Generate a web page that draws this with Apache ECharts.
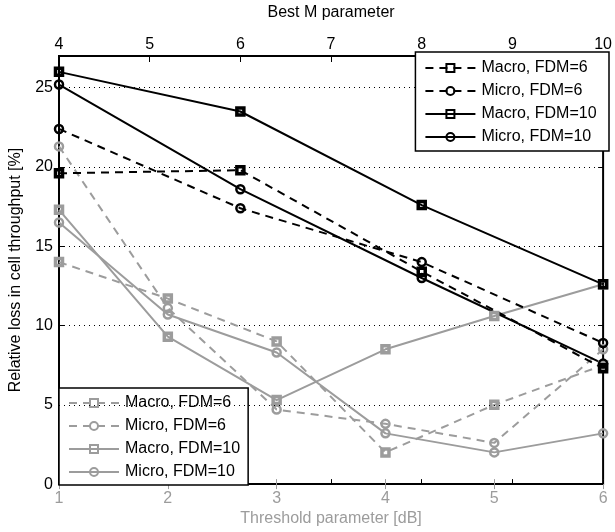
<!DOCTYPE html>
<html><head><meta charset="utf-8">
<script src="https://cdn.jsdelivr.net/npm/echarts@6/dist/echarts.min.js"></script>
<style>html,body{margin:0;padding:0;background:#fff}#c{width:615px;height:532px}</style>
</head><body><div id="c"></div>
<script>
// bottom axis (Threshold parameter [dB])
const thresholdX = [1, 2, 3, 4, 5, 6];
// top axis (Best M parameter)
const bestM = [4, 6, 8, 10];

// gray series (vs threshold)
const grayMacro6  = [14.0, 11.7, 9.0, 2.0, 5.0, 7.5];
const grayMicro6  = [21.3, 11.1, 4.7, 3.8, 2.6, 8.5];
const grayMacro10 = [17.3, 9.3, 5.3, 8.5, 10.6, 12.6];
const grayMicro10 = [16.5, 10.7, 8.3, 3.2, 2.0, 3.2];

// black series (vs best M)
const blackMacro6  = [19.6, 19.8, 13.4, 7.3];
const blackMicro6  = [22.4, 17.4, 14.0, 8.9];
const blackMacro10 = [26.0, 23.5, 17.6, 12.6];
const blackMicro10 = [25.2, 18.6, 13.0, 7.6];

const names = ['Macro, FDM=6', 'Micro, FDM=6', 'Macro, FDM=10', 'Micro, FDM=10'];

const GRAY = '#9c9c9c';
const FONT = 'Liberation Sans';
const FS = 16;

function pairs(xs, ys){ return xs.map((x,i)=>[x, ys[i]]); }

function mk(name, xs, ys, color, dashed, sym, axisIdx){
  const isC = sym === 'circle';
  return {
    name: name, type: 'line', xAxisIndex: axisIdx, yAxisIndex: 0,
    data: pairs(xs, ys),
    symbol: sym, symbolSize: isC ? 8 : 7,
    showAllSymbol: true,
    lineStyle: {color: color, width: 2, type: dashed ? [8,6] : 'solid'},
    itemStyle: {color: 'rgba(255,255,255,0)', borderColor: color, borderWidth: isC ? 2.5 : 3.5},
    emphasis: {disabled: true},
    animation: false
  };
}

const series = [
  mk(names[0], thresholdX, grayMacro6, GRAY, true, 'rect', 0),
  mk(names[1], thresholdX, grayMicro6, GRAY, true, 'circle', 0),
  mk(names[2], thresholdX, grayMacro10, GRAY, false, 'rect', 0),
  mk(names[3], thresholdX, grayMicro10, GRAY, false, 'circle', 0),
  mk(names[0]+' ', bestM, blackMacro6, '#000', true, 'rect', 1),
  mk(names[1]+' ', bestM, blackMicro6, '#000', true, 'circle', 1),
  mk(names[2]+' ', bestM, blackMacro10, '#000', false, 'rect', 1),
  mk(names[3]+' ', bestM, blackMicro10, '#000', false, 'circle', 1)
];
// dotted grid line of the top axes shows through the lower legend
series[4].markLine = {silent: true, symbol: 'none', z: 10, label: {show: false},
  lineStyle: {color: '#000', type: [1, 4], width: 1}, emphasis: {disabled: true},
  data: [{yAxis: 5}]};

const tickOnly = (pos, min, max, color) => ({
  type: 'value', position: pos, min: min, max: max, interval: 1,
  axisLine: {show: false}, axisLabel: {show: false}, splitLine: {show: false},
  axisTick: {show: true, inside: true, length: 5, lineStyle: {color: color, width: 1}}
});

const chart = echarts.init(document.getElementById('c'), null, {renderer: 'canvas'});
chart.setOption({
  animation: false,
  backgroundColor: '#fff',
  textStyle: {fontFamily: FONT},
  grid: {left: 58, right: 5, top: 51, bottom: 46, show: true, borderColor: '#000', borderWidth: 2, backgroundColor: 'transparent'},
  xAxis: [
    {type: 'value', position: 'bottom', min: 1, max: 6, interval: 1,
     name: 'Threshold parameter [dB]', nameLocation: 'middle', nameGap: 26,
     nameTextStyle: {color: GRAY, fontSize: FS, fontFamily: FONT},
     axisLine: {show: true, onZero: false, lineStyle: {color: '#000', width: 2}},
     axisTick: {show: true, inside: true, length: 5, lineStyle: {color: GRAY}},
     axisLabel: {color: GRAY, fontSize: FS, fontFamily: FONT, margin: 6},
     splitLine: {show: false}},
    {type: 'value', position: 'top', min: 4, max: 10, interval: 1,
     name: 'Best M parameter', nameLocation: 'middle', nameGap: 35,
     nameTextStyle: {color: '#000', fontSize: FS, fontFamily: FONT},
     axisLine: {show: true, onZero: false, lineStyle: {color: '#000', width: 2}},
     axisTick: {show: true, inside: true, length: 6, lineStyle: {color: '#000'}},
     axisLabel: {color: '#000', fontSize: FS, fontFamily: FONT, margin: 3},
     splitLine: {show: false}},
    tickOnly('bottom', 4, 10, '#000'),
    tickOnly('top', 1, 6, GRAY)
  ],
  yAxis: [
    {type: 'value', min: 0, max: 27, interval: 5,
     name: 'Relative loss in cell throughput [%]', nameLocation: 'middle', nameGap: 35,
     nameTextStyle: {color: '#000', fontSize: FS, fontFamily: FONT},
     axisLine: {show: true, lineStyle: {color: '#000', width: 2}},
     axisTick: {show: true, inside: true, length: 5, lineStyle: {color: '#000'}},
     axisLabel: {color: '#000', fontSize: FS, fontFamily: FONT, margin: 6, showMaxLabel: false},
     splitLine: {show: true, lineStyle: {color: '#000', type: [1, 4], width: 1}}},
    {type: 'value', min: 0, max: 27, interval: 5, position: 'right',
     axisLine: {show: false}, axisLabel: {show: false}, splitLine: {show: false},
     axisTick: {show: true, inside: true, length: 5, lineStyle: {color: '#000'}}}
  ],
  legend: [
    {data: names.map(n=>n+' '), orient: 'vertical', right: 6, top: 52,
     backgroundColor: '#fff', borderColor: '#000', borderWidth: 1.5, padding: [8, 8, 6, 9],
     itemGap: 7, itemWidth: 50, itemHeight: 10,
     textStyle: {color: '#000', fontSize: FS, fontFamily: FONT, padding: [0,0,0,1]}},
    {data: names, orient: 'vertical', left: 59, bottom: 47,
     backgroundColor: '#fff', borderColor: '#000', borderWidth: 1.5, padding: [7, 8, 5, 9],
     itemGap: 7, itemWidth: 50, itemHeight: 10,
     textStyle: {color: '#000', fontSize: FS, fontFamily: FONT, padding: [0,0,0,1]}}
  ],
  series: series
});
</script></body></html>
